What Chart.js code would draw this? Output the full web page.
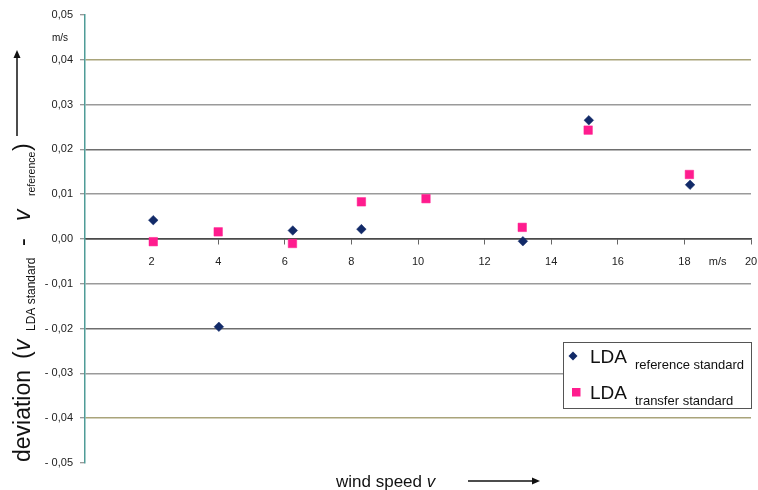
<!DOCTYPE html>
<html>
<head>
<meta charset="UTF-8">
<title>LDA deviation</title>
<style>
  html, body { margin: 0; padding: 0; background: #fff; }
  #chart-holder { position: relative; width: 758px; height: 490px; }
</style>
</head>
<body>
<div id="chart-holder">
  <canvas id="grafica-desviacion" width="758" height="490"></canvas>
</div>
<script src="https://cdn.jsdelivr.net/npm/chart.js@4/dist/chart.umd.min.js"></script>
<script>
// data
var windSpeedRef = [2.05, 4.02, 6.24, 8.30, 13.15, 15.13, 18.17];
var deviationRef = [0.0042, -0.0196, 0.0019, 0.0022, -0.0005, 0.0265, 0.0121];
var windSpeedTransfer = [2.05, 4.00, 6.23, 8.30, 10.24, 13.13, 15.11, 18.15];
var deviationTransfer = [-0.0006, 0.0016, -0.0010, 0.0083, 0.0090, 0.0026, 0.0243, 0.0144];
var xTickValues = [2, 4, 6, 8, 10, 12, 14, 16, 18, 19, 20];
var yTickValues = [0.05, 0.04, 0.03, 0.02, 0.01, 0, -0.01, -0.02, -0.03, -0.04, -0.05];

var navy = '#122a68';
var pink = '#ff1c8e';
var fontFam = '"Liberation Sans", Arial, sans-serif';

function fmtDev(v) {
    var s = Math.abs(v).toFixed(2).replace('.', ',');
    return v < -1e-9 ? '- ' + s : s;
}

// scanned grid lines are not all the same shade
function gridColor(v) {
    if (Math.abs(v) > 0.045) return 'rgba(0,0,0,0)';
    if (Math.abs(v) < 0.001) return '#4a4a4a';
    if (Math.abs(Math.abs(v) - 0.04) < 0.001) return '#a9a47a';
    if (Math.abs(Math.abs(v) - 0.02) < 0.001) return '#6e6e6e';
    return '#9a9a9a';
}

function toPoints(xs, ys) {
    return xs.map(function (x, i) { return {x: x, y: ys[i]}; });
}

function arrow(ctx, x1, y1, x2, y2) {
    var a = Math.atan2(y2 - y1, x2 - x1);
    ctx.beginPath();
    ctx.moveTo(x1, y1);
    ctx.lineTo(x2 - 5 * Math.cos(a), y2 - 5 * Math.sin(a));
    ctx.stroke();
    ctx.beginPath();
    ctx.moveTo(x2, y2);
    ctx.lineTo(x2 - 8 * Math.cos(a) + 3.5 * Math.sin(a), y2 - 8 * Math.sin(a) - 3.5 * Math.cos(a));
    ctx.lineTo(x2 - 8 * Math.cos(a) - 3.5 * Math.sin(a), y2 - 8 * Math.sin(a) + 3.5 * Math.cos(a));
    ctx.closePath();
    ctx.fill();
}

// write runs of text one after another, some of them as subscripts
function runs(ctx, x, y, parts) {
    parts.forEach(function (p) {
        ctx.font = (p.style || '') + ' ' + p.size + 'px ' + fontFam;
        if (p.at !== undefined) x = p.at;
        ctx.fillText(p.t, x, y + (p.dy || 0));
        x += ctx.measureText(p.t).width + (p.gap || 0);
    });
    return x;
}

var textPlugin = {
    id: 'textos',
    afterDraw: function (chart) {
        var ctx = chart.ctx;
        ctx.save();
        ctx.fillStyle = '#111';
        ctx.strokeStyle = '#111';
        ctx.lineWidth = 1.5;
        ctx.textBaseline = 'alphabetic';

        // unit under the top tick label
        ctx.font = '10px ' + fontFam;
        ctx.textAlign = 'center';
        ctx.fillText('m/s', 60, 41);
        ctx.textAlign = 'left';

        // y title, rotated (offsets measured up from the bottom of the word "deviation")
        ctx.save();
        ctx.translate(30, 462);
        ctx.rotate(-Math.PI / 2);
        runs(ctx, 0, 0, [
            {t: 'deviation', size: 23, at: 0},
            {t: '(', size: 23, at: 103},
            {t: 'v', size: 23, style: 'italic', at: 111},
            {t: 'LDA standard', size: 12, dy: 5, at: 131},
            {t: '-', size: 23, at: 216},
            {t: 'v', size: 23, style: 'italic', at: 241},
            {t: 'reference', size: 10.5, dy: 5, at: 266},
            {t: ')', size: 23, at: 311}
        ]);
        ctx.restore();
        arrow(ctx, 17, 136, 17, 50);

        // x title
        runs(ctx, 336, 487, [
            {t: 'wind speed ', size: 17},
            {t: 'v', size: 17, style: 'italic'}
        ]);
        arrow(ctx, 468, 481, 540, 481);

        // legend box
        ctx.fillStyle = '#fff';
        ctx.strokeStyle = '#555';
        ctx.lineWidth = 1;
        ctx.fillRect(563, 342, 189, 67);
        ctx.strokeRect(563.5, 342.5, 188, 66);

        ctx.fillStyle = navy;
        ctx.beginPath();
        ctx.moveTo(573, 351.5);
        ctx.lineTo(577.5, 356);
        ctx.lineTo(573, 360.5);
        ctx.lineTo(568.5, 356);
        ctx.closePath();
        ctx.fill();
        ctx.fillStyle = pink;
        ctx.fillRect(572, 388, 8.5, 8.5);

        ctx.fillStyle = '#111';
        runs(ctx, 590, 363, [
            {t: 'LDA', size: 19, gap: 8},
            {t: 'reference standard', size: 13, dy: 6}
        ]);
        runs(ctx, 590, 399, [
            {t: 'LDA', size: 19, gap: 8},
            {t: 'transfer standard', size: 13, dy: 6}
        ]);
        ctx.restore();
    }
};

var chartCtx = document.getElementById('grafica-desviacion').getContext('2d');
var deviationChart = new Chart(chartCtx, {
    type: 'scatter',
    data: {
        datasets: [{
            label: 'LDA reference standard',
            data: toPoints(windSpeedRef, deviationRef),
            pointStyle: 'rectRot',
            pointRadius: 4.8,
            backgroundColor: navy,
            borderColor: navy,
            borderWidth: 0.5
        }, {
            label: 'LDA transfer standard',
            data: toPoints(windSpeedTransfer, deviationTransfer),
            pointStyle: 'rect',
            pointRadius: 6,
            backgroundColor: pink,
            borderColor: pink,
            borderWidth: 0.5
        }]
    },
    options: {
        responsive: false,
        animation: false,
        devicePixelRatio: 1,
        layout: {padding: {left: 0, top: 15, right: 7, bottom: 27}},
        plugins: {
            legend: {display: false},
            tooltip: {enabled: false}
        },
        scales: {
            x: {
                type: 'linear',
                position: {y: 0},
                min: 0,
                max: 20,
                afterBuildTicks: function (scale) {
                    scale.ticks = xTickValues.map(function (v) { return {value: v}; });
                },
                afterFit: function (scale) {
                    scale.paddingLeft = 0;
                    scale.paddingRight = 6;
                },
                grid: {
                    drawOnChartArea: false,
                    drawTicks: true,
                    tickLength: 5,
                    tickColor: function (c) {
                        return c.tick && c.tick.value === 19 ? 'rgba(0,0,0,0)' : '#666';
                    },
                    tickWidth: 1
                },
                border: {display: true, color: '#4a4a4a', width: 1.5},
                ticks: {
                    autoSkip: false,
                    maxRotation: 0,
                    padding: 11,
                    color: '#222',
                    font: {family: fontFam, size: 11},
                    callback: function (v) { return v === 19 ? 'm/s' : String(v); }
                }
            },
            y: {
                type: 'linear',
                position: 'left',
                min: -0.05,
                max: 0.05,
                afterBuildTicks: function (scale) {
                    scale.ticks = yTickValues.map(function (v) { return {value: v}; });
                },
                afterFit: function (scale) { scale.width = 85; },
                grid: {
                    color: function (c) { return c.tick ? gridColor(c.tick.value) : '#999'; },
                    lineWidth: 1.5,
                    drawTicks: true,
                    tickLength: 5,
                    tickColor: '#777',
                    tickWidth: 1
                },
                border: {display: true, color: '#4f9c97', width: 1.5},
                ticks: {
                    padding: 7,
                    color: '#222',
                    font: {family: fontFam, size: 11},
                    callback: function (v) { return fmtDev(v); }
                }
            }
        }
    },
    plugins: [textPlugin]
});
</script>
</body>
</html>
